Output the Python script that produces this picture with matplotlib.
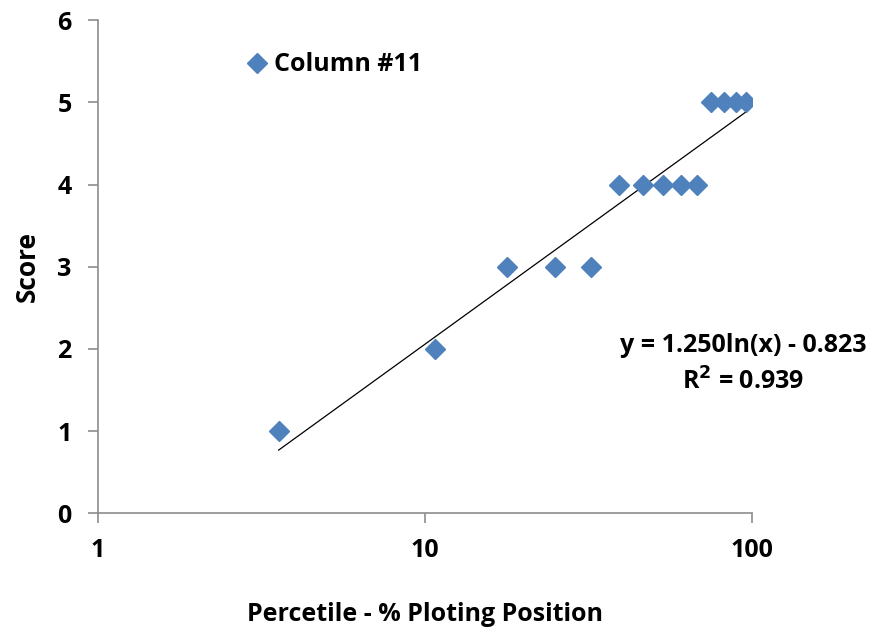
import numpy as np
import matplotlib.pyplot as plt

# ==========================================
# Data
# ==========================================

percentile = [3.57, 10.71, 17.86, 25.0, 32.14, 39.29, 46.43,
              53.57, 60.71, 67.86, 75.0, 82.14, 89.29, 96.43]
score = [1, 2, 3, 3, 3, 4, 4, 4, 4, 4, 5, 5, 5, 5]

x_ticks = [1, 10, 100]
y_ticks = [0, 1, 2, 3, 4, 5, 6]

eq_text = "y = 1.250ln(x) - 0.823"
r2_text = "R$^2$ = 0.939"

# log trendline fit: y = a ln(x) + b
a, b = np.polyfit(np.log(percentile), score, 1)

# ==========================================
# Plot
# ==========================================

plt.rcParams["font.family"] = ["Open Sans", "DejaVu Sans"]
plt.rcParams["font.weight"] = "bold"
plt.rcParams["mathtext.default"] = "bf"

fig = plt.figure(figsize=(8.75, 6.32), dpi=100)
ax = fig.add_axes([0.112, 0.188, 0.747, 0.780])

ax.plot(percentile, score, linestyle="none", marker="D",
        markersize=10, color="#4F81BD", label="Column #11", zorder=3)

fit_x = np.array([percentile[0], percentile[-1]])
ax.plot(fit_x, a * np.log(fit_x) + b, color="black", linewidth=0.9)

ax.set_xscale("log")
ax.set_xlim(1, 100)
ax.set_ylim(0, 6)
ax.set_xticks(x_ticks)
ax.set_xticklabels([str(t) for t in x_ticks])
ax.set_yticks(y_ticks)
ax.minorticks_off()

for side in ["top", "right"]:
    ax.spines[side].set_visible(False)
for side in ["left", "bottom"]:
    ax.spines[side].set_color("#8c8c8c")
    ax.spines[side].set_linewidth(1.2)

ax.tick_params(axis="both", colors="#8c8c8c", length=7, width=1.2,
               labelcolor="black", labelsize=18)
ax.tick_params(axis="x", pad=11)
ax.tick_params(axis="y", pad=12)
for lbl in ax.get_xticklabels() + ax.get_yticklabels():
    lbl.set_fontweight("bold")

ax.set_xlabel("Percetile - % Ploting Position", fontsize=18,
              fontweight="bold", labelpad=28)
ax.set_ylabel("Score", fontsize=19, fontweight="bold", labelpad=12)

ax.text(0.987, 0.340, eq_text, transform=ax.transAxes, ha="center",
        va="center", fontsize=18, fontweight="bold")
ax.text(0.987, 0.266, r2_text, transform=ax.transAxes, ha="center",
        va="center", fontsize=18, fontweight="bold")

ax.legend(loc="upper left", bbox_to_anchor=(0.205, 0.955), frameon=False,
          fontsize=18, handletextpad=0.1, handlelength=1.2,
          borderaxespad=0)

fig.savefig("out.png", dpi=100)
